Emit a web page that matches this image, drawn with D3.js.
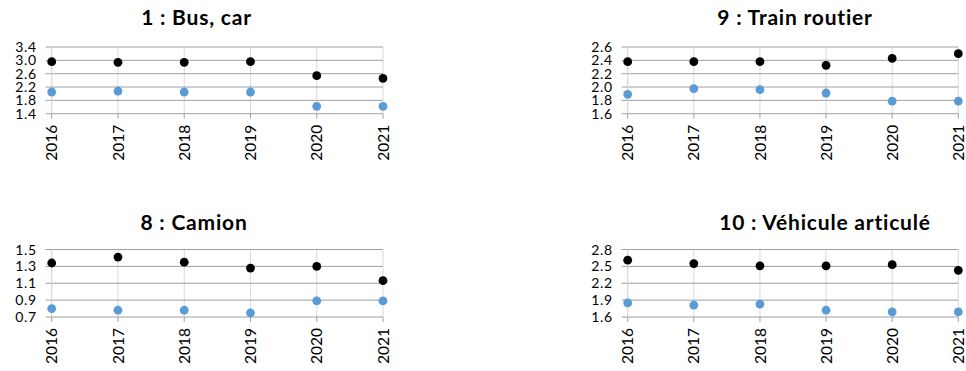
<!DOCTYPE html>
<html><head><meta charset="utf-8">
<script src="https://cdn.jsdelivr.net/npm/d3@7"></script>
<style>body{margin:0;background:#fff;} svg{display:block}</style>
</head><body><svg id="c" width="966" height="371"></svg>
<script>
const years = ["2016","2017","2018","2019","2020","2021"];
const titles = ["1 : Bus, car","9 : Train routier","8 : Camion","10 : Véhicule articulé"];
const busTotal = [2.96,2.94,2.94,2.96,2.54,2.46];
const busPart = [2.05,2.08,2.05,2.05,1.62,1.62];
const trainTotal = [2.38,2.38,2.38,2.325,2.43,2.50];
const trainPart = [1.89,1.975,1.96,1.91,1.79,1.79];
const camionTotal = [1.34,1.41,1.35,1.28,1.30,1.13];
const camionPart = [0.80,0.78,0.78,0.75,0.89,0.89];
const artTotal = [2.61,2.55,2.51,2.51,2.53,2.43];
const artPart = [1.85,1.81,1.83,1.72,1.69,1.69];
const busTicks = [1.4,1.8,2.2,2.6,3.0,3.4];
const trainTicks = [1.6,1.8,2.0,2.2,2.4,2.6];
const camionTicks = [0.7,0.9,1.1,1.3,1.5];
const artTicks = [1.6,1.9,2.2,2.5,2.8];

const seriesData = [
  {title: titles[0], total: busTotal, part: busPart, ticks: busTicks},
  {title: titles[1], total: trainTotal, part: trainPart, ticks: trainTicks},
  {title: titles[2], total: camionTotal, part: camionPart, ticks: camionTicks},
  {title: titles[3], total: artTotal, part: artPart, ticks: artTicks}
];
const layout = [
  {x0:51.7, x1:383, y0:47, y1:113.7, tx:196.5, ty:24.5},
  {x0:627.7, x1:958.3, y0:47, y1:113.7, tx:795, ty:25},
  {x0:51.7, x1:383, y0:249.5, y1:317, tx:194, ty:229.5},
  {x0:627.7, x1:958.3, y0:249.5, y1:317, tx:825, ty:230}
];
const FONT = "Lato, 'Open Sans', sans-serif";
const svg = d3.select("#c");

seriesData.forEach((d, i) => {
  const L = layout[i];
  const g = svg.append("g");
  const x = d3.scalePoint().domain(years).range([L.x0, L.x1]).padding(0);
  const y = d3.scaleLinear().domain(d3.extent(d.ticks)).range([L.y1, L.y0]);

  // vertical gridlines
  g.selectAll(".vg").data(years).join("line")
    .attr("x1", v => x(v)).attr("x2", v => x(v))
    .attr("y1", L.y0).attr("y2", L.y1)
    .attr("stroke", "#d9d9d9").attr("stroke-width", 1);
  // horizontal gridlines (with outer tick)
  g.selectAll(".hg").data(d.ticks).join("line")
    .attr("x1", L.x0 - 6).attr("x2", L.x1)
    .attr("y1", v => y(v)).attr("y2", v => y(v))
    .attr("stroke", "#9f9f9f").attr("stroke-width", 1);
  // left axis line
  g.append("line").attr("x1", L.x0).attr("x2", L.x0).attr("y1", L.y0).attr("y2", L.y1)
    .attr("stroke", "#d9d9d9");
  // bottom axis ticks
  g.selectAll(".bt").data(years).join("line")
    .attr("x1", v => x(v)).attr("x2", v => x(v))
    .attr("y1", L.y1).attr("y2", L.y1 + 5)
    .attr("stroke", "#9f9f9f");

  // y labels
  g.selectAll(".yl").data(d.ticks).join("text")
    .attr("x", L.x0 - 15).attr("y", v => y(v)).attr("dy", "0.36em")
    .attr("text-anchor", "end").attr("font-family", FONT).attr("font-size", 14)
    .attr("letter-spacing", 0.6).attr("fill", "#000")
    .text(v => v.toFixed(1));
  // x labels
  g.selectAll(".xl").data(years).join("text")
    .attr("transform", v => `translate(${x(v)},${L.y1 + 11}) rotate(-90)`)
    .attr("dy", "0.36em").attr("text-anchor", "end")
    .attr("font-family", FONT).attr("font-size", 15.5).attr("fill", "#000")
    .text(v => v);

  // points
  g.selectAll(".pt").data(d.part).join("circle")
    .attr("cx", (v, j) => x(years[j])).attr("cy", v => y(v)).attr("r", 4.4)
    .attr("fill", "#5b9bd5");
  g.selectAll(".tt").data(d.total).join("circle")
    .attr("cx", (v, j) => x(years[j])).attr("cy", v => y(v)).attr("r", 4.4)
    .attr("fill", "#000");

  // title
  g.append("text").attr("x", L.tx).attr("y", L.ty).attr("text-anchor", "middle")
    .attr("font-family", FONT).attr("font-weight", "bold").attr("font-size", 21)
    .attr("letter-spacing", 0.8)
    .attr("fill", "#000").text(d.title);
});
</script></body></html>
